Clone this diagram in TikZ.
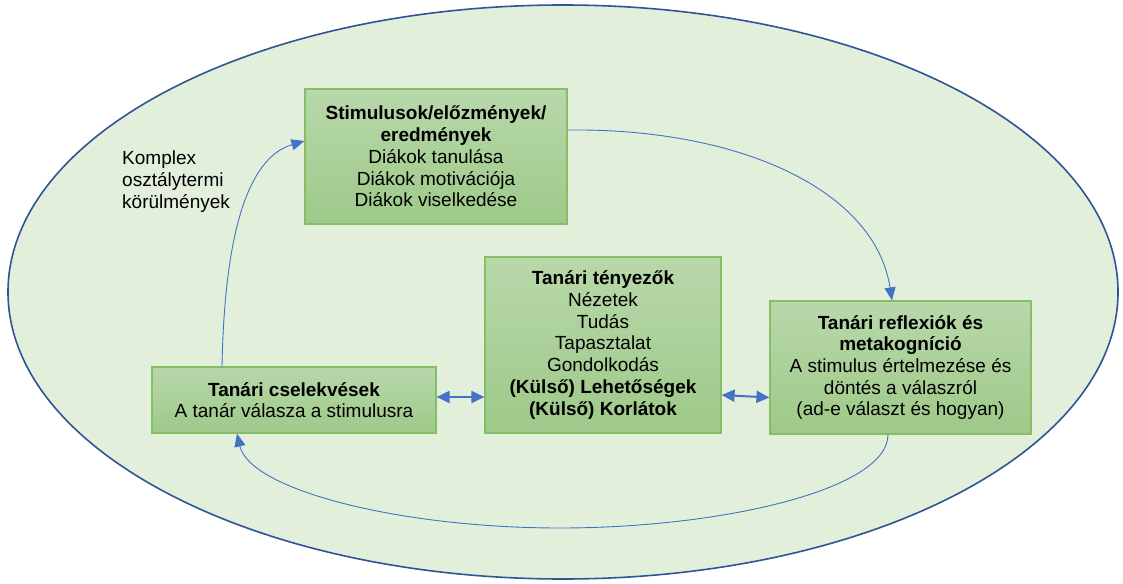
\documentclass[tikz,border=0pt]{standalone}
\usepackage{fontspec}
\setmainfont{Liberation Sans}
\usetikzlibrary{arrows.meta,calc}

\definecolor{ovalfill}{RGB}{226,239,218}
\definecolor{ovaldraw}{RGB}{47,85,151}
\definecolor{boxtop}{RGB}{184,216,170}
\definecolor{boxbot}{RGB}{158,201,137}
\definecolor{boxline}{RGB}{134,190,104}
\definecolor{flow}{RGB}{68,114,196}

\begin{document}
\begin{tikzpicture}[x=1pt,y=-1pt,
  box/.style={rectangle, draw=boxline, line width=1.2pt,
    top color=boxtop, bottom color=boxbot, align=center, inner sep=0pt,
    font=\fontsize{19}{21.7}\selectfont},
  note/.style={align=left, inner sep=0pt, font=\fontsize{19}{21.7}\selectfont},
  flowline/.style={draw=flow, line width=0.9pt, -{Triangle[length=13pt,width=11pt]}},
  link/.style={draw=flow, line width=2pt,
    {Triangle[length=13pt,width=12pt]}-{Triangle[length=13pt,width=12pt]}}]

\useasboundingbox (0,0) rectangle (1123,583);

% classroom context
\draw[ovaldraw, line width=1.6pt, fill=ovalfill] (563,292) ellipse [x radius=555, y radius=287];

\node[note, anchor=west] (ctx) at (122,181.5)
  {Komplex\\osztálytermi\\körülmények};

% boxes
\node[box, minimum width=262, minimum height=135] (stim) at (436,156.5)
  {\textbf{Stimulusok/előzmények/}\\\textbf{eredmények}\\Diákok tanulása\\Diákok motivációja\\Diákok viselkedése};

\node[box, minimum width=236, minimum height=176] (fact) at (603,345)
  {\textbf{Tanári tényezők}\\Nézetek\\Tudás\\Tapasztalat\\Gondolkodás\\\textbf{(Külső) Lehetőségek}\\\textbf{(Külső) Korlátok}};

\node[box, minimum width=261, minimum height=133] (refl) at (900.5,367.5)
  {\textbf{Tanári reflexiók és}\\\textbf{metakogníció}\\A stimulus értelmezése és\\döntés a válaszról\\(ad-e választ és hogyan)};

\node[box, minimum width=284, minimum height=66] (act) at (294,400)
  {\textbf{Tanári cselekvések}\\A tanár válasza a stimulusra};

% cycle
\draw[flowline] ([xshift=-72pt]act.north) .. controls (224,260) and (240,160) .. ([yshift=15.5pt]stim.west);
\draw[flowline] ([yshift=26.5pt]stim.east) .. controls (740,128) and (875,190) .. ([xshift=-8.5pt]refl.north);
\draw[flowline] ([xshift=-12.5pt]refl.south) .. controls (888,490) and (720,528) .. (560,528)
  .. controls (400,528) and (250,490) .. ([xshift=-57pt]act.south);

% two-way links
\draw[link] ([yshift=3pt]act.east) -- ([yshift=-52pt]fact.west);
\draw[link] ([yshift=-50pt]fact.east) -- ([yshift=-30pt]refl.west);

\end{tikzpicture}
\end{document}
